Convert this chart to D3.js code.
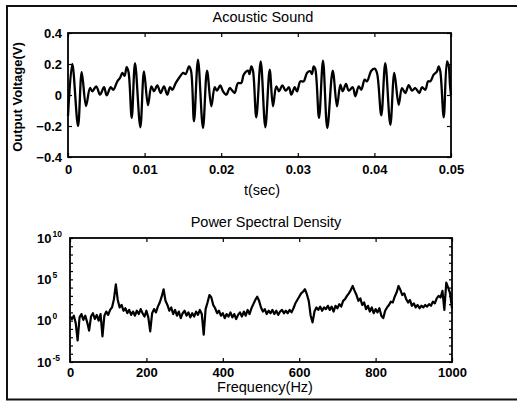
<!DOCTYPE html>
<html>
<head>
<meta charset="utf-8">
<script src="https://cdn.jsdelivr.net/npm/d3@7"></script>
<style>
body { margin: 0; background: #fff; }
svg { display: block; font-family: "Liberation Sans", Arial, sans-serif; }
.tick text { font-size: 13px; font-weight: bold; fill: #000; }
.tick line { stroke: #000; stroke-width: 1.2; }
</style>
</head>
<body>
<svg width="517" height="401"></svg>
<script>
// acoustic signal (time in ms, volts)
var timeMs = [0,0.56,1.31,1.79,2.35,2.87,3.17,3.69,4.18,4.70,
  5.05,5.57,5.91,6.44,6.79,7.09,7.38,7.66,7.90,8.32,
  8.75,9.44,9.92,10.44,10.88,11.23,11.66,12.10,12.53,12.96,
  13.32,13.62,14.06,14.49,15.05,15.36,15.80,16.06,16.45,16.97,
  17.62,18.15,18.71,19.15,19.45,19.88,20.24,20.67,21.11,21.45,
  21.76,22.19,22.62,22.94,23.50,23.69,23.93,24.15,24.58,25.16,
  25.76,26.33,26.76,27.19,27.55,27.98,28.42,28.85,29.15,29.60,
  29.90,30.33,30.77,31.20,31.63,31.85,32.07,32.28,32.77,33.29,
  33.85,34.56,35.12,35.55,35.86,36.29,36.65,37.17,37.51,37.95,
  38.29,38.73,39.03,39.60,40.04,40.34,40.90,41.42,42.08,42.60,
  43.17,43.60,44.03,44.48,44.91,45.34,45.86,46.21,46.65,47.00,
  47.30,47.74,48.17,48.39,48.60,49.05,49.48,49.70,49.87,50];

var voltage = [-0.135,0.20,-0.20,0.148,-0.071,0.045,0.024,0.056,0.002,0.05,
  -0.002,0.05,0.034,0.088,0.11,0.142,0.123,0.179,0.148,-0.148,
  0.206,-0.208,0.153,-0.066,0.056,0.024,0.062,0.013,0.056,0.002,
  0.05,0.034,0.077,0.11,0.142,0.135,0.185,0.157,-0.17,0.228,
  -0.213,0.157,-0.073,0.05,0.028,0.062,0.024,0.002,0.045,0.028,
  0.013,0.077,0.077,0.131,0.157,0.135,0.185,0.157,-0.144,0.217,
  -0.208,0.163,-0.073,0.056,0.024,0.062,0.028,0.05,0.002,0.05,
  0.024,0.088,0.088,0.142,0.153,0.135,0.185,0.168,-0.148,0.221,
  -0.213,0.157,-0.073,0.066,0.024,0.071,0.028,0.05,-0.008,0.056,
  0.034,0.099,0.088,0.157,0.17,0.142,-0.131,0.206,-0.192,0.142,
  -0.063,0.045,0.013,0.063,0.028,0.045,0.013,0.05,0.034,0.088,
  0.088,0.131,0.153,0.185,0.153,-0.144,0.217,0.187,0.064,0.0];

// power spectral density, log10 value every 5 Hz from 0 to 1000
var freqStep = 5;
var psdLog = [0.5,0.2,0.6,-0.3,-2.4,0.4,0.8,0.1,0.6,-0.2,
  -1.2,0.5,0.9,0.2,0.7,0.0,0.8,-1.9,0.6,1.1,
  0.7,1.3,1.6,2.6,4.4,2.5,1.6,1.9,1.2,1.5,
  0.9,1.3,0.7,1.1,0.6,1.2,0.8,1.4,0.9,0.5,
  1.2,0.4,-1.3,0.9,1.4,1.0,1.7,2.2,2.9,3.8,
  2.4,1.9,1.2,1.6,0.8,1.3,0.6,1.1,0.3,0.9,
  1.2,0.6,1.0,0.4,0.9,0.5,1.1,0.7,1.3,0.8,
  -1.7,1.4,2.2,3.1,2.8,1.9,1.5,0.9,1.2,0.6,
  0.9,0.3,0.8,0.5,1.0,0.4,0.8,0.2,0.7,1.0,
  0.5,1.1,0.6,1.3,0.8,1.5,2.0,2.5,2.9,2.4,
  1.6,1.1,1.4,0.8,1.2,0.9,1.3,0.8,1.2,0.7,
  1.1,1.3,0.9,1.2,0.9,1.3,1.0,1.5,2.1,2.5,
  2.9,3.3,3.5,3.8,3.2,2.4,0.6,-0.2,1.1,1.6,
  1.3,1.7,1.2,1.6,1.4,1.8,1.3,1.7,1.1,1.8,
  1.5,2.0,1.7,2.4,2.6,3.0,3.3,3.7,4.2,3.6,
  3.1,2.4,2.7,1.9,2.2,1.4,1.8,1.1,1.6,0.9,
  1.4,1.0,1.5,0.6,0.3,1.2,1.6,1.9,2.3,2.2,
  2.9,3.4,4.2,3.7,3.1,3.3,2.6,2.2,2.5,1.8,
  2.1,1.6,1.9,1.5,1.8,1.6,1.9,1.7,2.0,1.8,
  2.3,2.1,2.7,3.0,2.8,3.6,1.3,4.6,4.0,3.3,
  1.5];

var tTicks = [0, 0.01, 0.02, 0.03, 0.04, 0.05];
var vTicks = [-0.4, -0.2, 0, 0.2, 0.4];
var fTicks = [0, 200, 400, 600, 800, 1000];
var expLabels = [10, 5, 0, -5];

var svg = d3.select("svg");

// outer frame of the scanned figure (no right edge)
svg.append("path")
    .attr("d", "M517,6H7V399.5H517")
    .attr("fill", "none")
    .attr("stroke", "#111")
    .attr("stroke-width", 2);

// ---------- upper panel: Acoustic Sound ----------
var pa = {left: 68, right: 451, top: 33, bottom: 157};

var x1 = d3.scaleLinear().domain([0, 0.05]).range([pa.left, pa.right]);
var y1 = d3.scaleLinear().domain([-0.4, 0.4]).range([pa.bottom, pa.top]);

function fmtV(d) { return d === 0 ? "0" : d3.format(".1f")(d); }

svg.append("g")
    .attr("transform", "translate(0," + pa.bottom + ")")
    .call(d3.axisBottom(x1).tickValues(tTicks).tickSize(-4).tickPadding(8)
      .tickFormat(d => d === 0 ? "0" : d3.format(".2f")(d)))
    .call(g => g.select(".domain").remove());
svg.append("g")
    .attr("transform", "translate(0," + pa.top + ")")
    .call(d3.axisTop(x1).tickValues(tTicks).tickSize(-4).tickFormat(""))
    .call(g => g.select(".domain").remove());
svg.append("g")
    .attr("transform", "translate(" + pa.left + ",0)")
    .call(d3.axisLeft(y1).tickValues(vTicks).tickSize(-4).tickPadding(6).tickFormat(fmtV))
    .call(g => g.select(".domain").remove());
svg.append("g")
    .attr("transform", "translate(" + pa.right + ",0)")
    .call(d3.axisRight(y1).tickValues(vTicks).tickSize(-4).tickFormat(""))
    .call(g => g.select(".domain").remove());

var wave = d3.zip(timeMs, voltage);
svg.append("path")
    .datum(wave)
    .attr("fill", "none")
    .attr("stroke", "#000")
    .attr("stroke-width", 2.3)
    .attr("stroke-linejoin", "round")
    .attr("d", d3.line()
      .x(d => x1(d[0] / 1000))
      .y(d => y1(d[1]))
      .curve(d3.curveCatmullRom.alpha(0.5)));

svg.append("rect")
    .attr("x", pa.left).attr("y", pa.top)
    .attr("width", pa.right - pa.left).attr("height", pa.bottom - pa.top)
    .attr("fill", "none").attr("stroke", "#000").attr("stroke-width", 1.8);

svg.append("text")
    .attr("x", 263).attr("y", 22)
    .attr("text-anchor", "middle")
    .style("font-size", "14.5px")
    .text("Acoustic Sound");
svg.append("text")
    .attr("x", 262).attr("y", 195)
    .attr("text-anchor", "middle")
    .style("font-size", "14.5px")
    .text("t(sec)");
svg.append("text")
    .attr("transform", "translate(22,97) rotate(-90)")
    .attr("text-anchor", "middle")
    .style("font-size", "13px")
    .style("font-weight", "bold")
    .text("Output Voltage(V)");

// ---------- lower panel: Power Spectral Density ----------
var pb = {left: 70, right: 452, top: 238, bottom: 362};

var x2 = d3.scaleLinear().domain([0, 1000]).range([pb.left, pb.right]);
var y2 = d3.scaleLog().domain([1e-5, 1e10]).range([pb.bottom, pb.top]);

svg.append("g")
    .attr("transform", "translate(0," + pb.bottom + ")")
    .call(d3.axisBottom(x2).tickValues(fTicks).tickSize(-4).tickPadding(6).tickFormat(d3.format("d")))
    .call(g => g.select(".domain").remove());
svg.append("g")
    .attr("transform", "translate(0," + pb.top + ")")
    .call(d3.axisTop(x2).tickValues(fTicks).tickSize(-4).tickFormat(""))
    .call(g => g.select(".domain").remove());

// a tick at every decade, labels only every fifth
var decades = d3.range(-5, 11).map(e => Math.pow(10, e));
svg.append("g")
    .attr("transform", "translate(" + pb.left + ",0)")
    .call(d3.axisLeft(y2).tickValues(decades).tickSize(-3).tickFormat(""))
    .call(g => g.select(".domain").remove());
svg.append("g")
    .attr("transform", "translate(" + pb.right + ",0)")
    .call(d3.axisRight(y2).tickValues(decades).tickSize(-3).tickFormat(""))
    .call(g => g.select(".domain").remove());

var lab = svg.append("g").selectAll("text")
    .data(expLabels).enter().append("text")
    .attr("x", 37)
    .attr("y", d => y2(Math.pow(10, d)) + 4.5)
    .style("font-size", "13px")
    .style("font-weight", "bold")
    .text("10");
lab.append("tspan")
    .attr("dy", -6)
    .attr("dx", 1)
    .style("font-size", "8.5px")
    .text(d => d);

var psd = psdLog.map((v, i) => [i * freqStep, Math.pow(10, v)]);
svg.append("path")
    .datum(psd)
    .attr("fill", "none")
    .attr("stroke", "#000")
    .attr("stroke-width", 2.2)
    .attr("stroke-linejoin", "round")
    .attr("d", d3.line()
      .x(d => x2(d[0]))
      .y(d => y2(d[1])));

svg.append("rect")
    .attr("x", pb.left).attr("y", pb.top)
    .attr("width", pb.right - pb.left).attr("height", pb.bottom - pb.top)
    .attr("fill", "none").attr("stroke", "#000").attr("stroke-width", 1.8);

svg.append("text")
    .attr("x", 266).attr("y", 227)
    .attr("text-anchor", "middle")
    .style("font-size", "14.5px")
    .text("Power Spectral Density");
svg.append("text")
    .attr("x", 265).attr("y", 392)
    .attr("text-anchor", "middle")
    .style("font-size", "14.5px")
    .text("Frequency(Hz)");
</script>
</body>
</html>
